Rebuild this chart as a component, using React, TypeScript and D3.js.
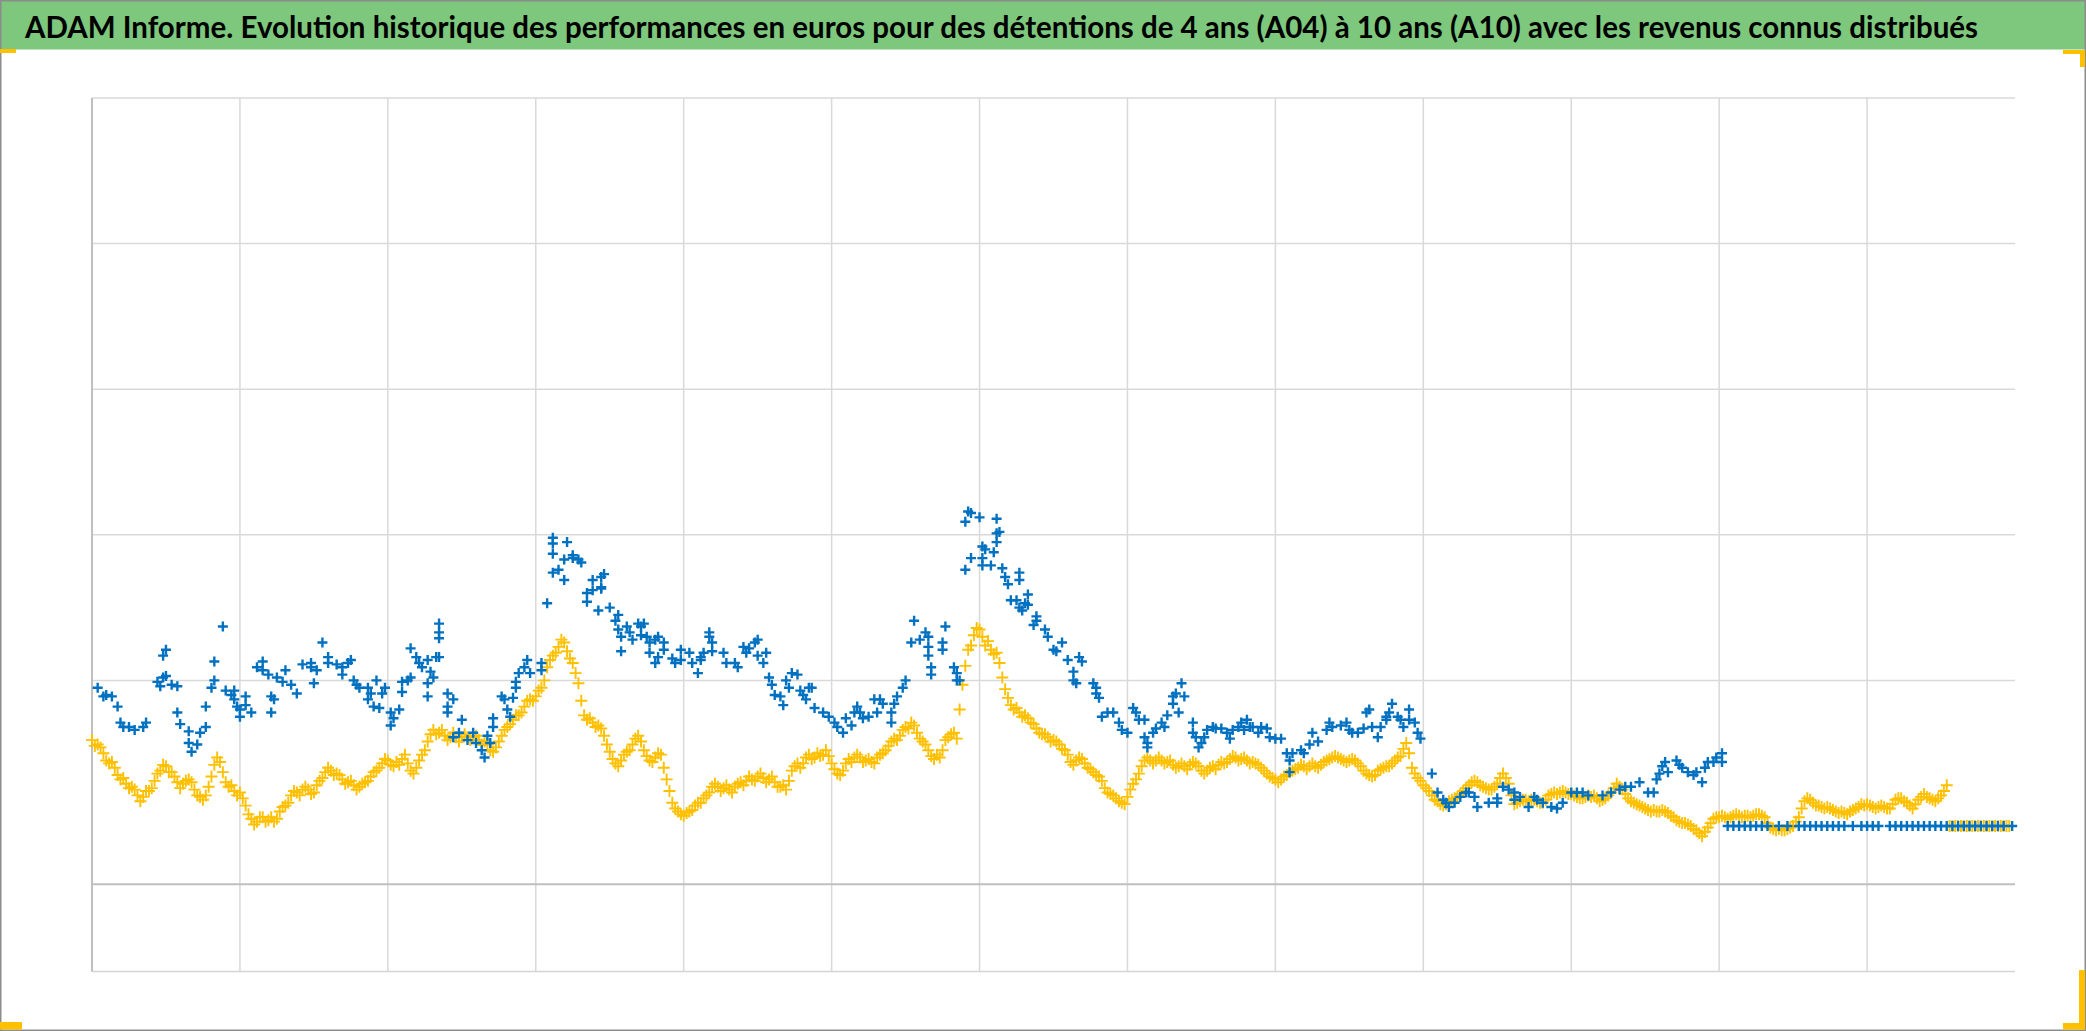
import React, { useEffect } from "react";
import * as d3 from "d3";

const TITLE =
  "ADAM Informe. Evolution historique des performances en euros pour des détentions de 4 ans (A04) à 10 ans (A10) avec les revenus connus distribués";

// x axis: weeks since the start of the history (52 weeks per grid column)
const xDomain = [0, 676];
const xGridWeeks = [0, 52, 104, 156, 208, 260, 312, 364, 416, 468, 520, 572, 624];
// y axis: performance in euros
const yDomain = [-100, 500];
const yGridValues = [100, 200, 300, 400, 500];
const yAxisCross = -40;

// A10 (yellow): values on even weeks (week = 2 * index)
const yellowEvenWeeks = [
  59, 56, 50, 43, 40, 32, 29, 27, 21, 20,
  24, 31, 38, 41, 37, 30, 29, 32, 25, 20,
  21, 34, 47, 37, 27, 24, 23, 14, 5, 3,
  6, 4, 3, 10, 14, 21, 23, 25, 25, 23,
  31, 37, 38, 36, 32, 30, 28, 27, 30, 34,
  38, 43, 45, 41, 42, 49, 38, 40, 49, 58,
  66, 64, 62, 61, 61, 61, 61, 61, 59, 58,
  52, 54, 62, 68, 73, 76, 82, 87, 89, 95,
  109, 117, 123, 126, 115, 105, 86, 73, 71, 69,
  62, 51, 43, 45, 51, 56, 62, 52, 45, 47,
  49, 32, 16, 10, 7, 10, 14, 16, 21, 27,
  27, 26, 25, 27, 30, 31, 32, 34, 33, 32,
  30, 27, 25, 38, 43, 43, 49, 47, 48, 52,
  43, 36, 38, 46, 47, 47, 45, 44, 47, 50,
  55, 60, 62, 68, 71, 64, 58, 52, 46, 47,
  59, 63, 60, 97, 121, 131, 135, 124, 121, 119,
  102, 88, 80, 78, 76, 71, 67, 63, 61, 59,
  56, 52, 44, 45, 46, 40, 37, 34, 26, 22,
  19, 16, 20, 29, 36, 45, 45, 45, 45, 44,
  42, 41, 41, 42, 43, 38, 38, 41, 42, 43,
  46, 47, 46, 45, 44, 42, 38, 34, 32, 32,
  35, 38, 40, 41, 41, 41, 42, 45, 47, 47,
  45, 45, 45, 41, 36, 34, 38, 40, 41, 45,
  48, 57, 40, 33, 28, 24, 18, 15, 15, 18,
  20, 24, 28, 31, 28, 26, 25, 29, 36, 29,
  15, 17, 18, 18, 17, 16, 21, 23, 23, 23,
  22, 20, 19, 21, 21, 17, 19, 23, 29, 25,
  19, 16, 14, 12, 10, 10, 11, 9, 6, 3,
  2, 0, -3, -7, -1, 5, 6, 6, 6, 8,
  6, 7, 7, 8, 6, -1, -3, -3, -2, 0,
  6, 17, 18, 14, 13, 13, 11, 9, 9, 10,
  12, 15, 15, 13, 13, 13, 12, 18, 19, 16,
  12, 18, 22, 19, 17, 21, 28, 0, 0, 0,
  0, 0, 0, 0, 0, 0, 0, 0,
];

// A10 (yellow): values on odd weeks (week = 2 * index + 1)
const yellowOddWeeks = [
  55, 54, 45, 44, 35, 33, 26, 25, 17, 24,
  26, 36, 42, 37, 34, 26, 31, 30, 21, 18,
  27, 42, 44, 30, 28, 21, 19, 8, 1, 6,
  3, 6, 5, 13, 16, 24, 21, 27, 22, 28,
  33, 40, 35, 35, 29, 31, 25, 29, 31, 37,
  40, 46, 42, 44, 46, 43, 36, 45, 52, 63,
  63, 66, 59, 64, 58, 63, 59, 62, 56, 56,
  51, 58, 66, 70, 76, 78, 86, 86, 93, 100,
  114, 119, 128, 120, 112, 98, 76, 74, 68, 67,
  56, 46, 41, 49, 52, 60, 58, 48, 44, 50,
  40, 24, 12, 8, 9, 11, 16, 19, 23, 29,
  24, 28, 23, 29, 28, 34, 31, 36, 30, 34,
  27, 28, 31, 41, 40, 47, 46, 50, 49, 48,
  39, 35, 43, 44, 49, 44, 46, 43, 49, 52,
  58, 59, 66, 67, 69, 60, 56, 48, 49, 52,
  61, 64, 80, 110, 124, 136, 130, 127, 118, 112,
  94, 83, 81, 75, 74, 70, 64, 63, 58, 58,
  53, 49, 42, 47, 43, 39, 35, 31, 23, 21,
  17, 15, 25, 32, 41, 47, 43, 47, 43, 45,
  40, 43, 39, 44, 41, 36, 40, 39, 44, 44,
  48, 45, 47, 43, 43, 40, 36, 33, 30, 34,
  37, 39, 42, 39, 43, 40, 44, 46, 48, 46,
  44, 46, 43, 38, 35, 35, 39, 41, 43, 47,
  53, 50, 36, 31, 26, 21, 17, 14, 17, 19,
  22, 26, 30, 30, 27, 25, 27, 33, 33, 21,
  16, 18, 17, 18, 16, 18, 22, 22, 24, 22,
  21, 19, 20, 20, 19, 18, 21, 26, 27, 22,
  17, 15, 13, 11, 11, 10, 10, 7, 4, 2,
  1, -2, -5, -4, 2, 6, 7, 5, 7, 7,
  7, 6, 8, 7, 2, -2, -2, -3, -1, 3,
  12, 19, 16, 14, 12, 12, 10, 10, 8, 11,
  13, 14, 14, 12, 14, 12, 15, 19, 17, 14,
  15, 20, 20, 18, 19, 24, 0, 0, 0, 0,
  0, 0, 0, 0, 0, 0, 0,
];

// A04 (blue): [week, value]
const bluePoints: [number, number][] = [
  [2, 95], [4, 89], [5, 90], [7, 89], [9, 82], [10, 71], [11, 68], [13, 68], [15, 66], [18, 68], [19, 71],
  [23, 99], [24, 96], [25, 102], [26, 103], [25, 117], [26, 121], [28, 97], [30, 96], [30, 78], [31, 70],
  [34, 65], [34, 57], [35, 51], [37, 56], [38, 64], [40, 68], [40, 82], [42, 95], [43, 100], [43, 113], [46, 137],
  [47, 93], [49, 90], [50, 93], [50, 87], [51, 82], [52, 75], [52, 80], [54, 89], [54, 83], [56, 78],
  [58, 109], [60, 113], [60, 107], [62, 104], [63, 89], [64, 87], [63, 78], [65, 102], [67, 99], [68, 107], [70, 97], [72, 91],
  [74, 111], [77, 112], [77, 109], [79, 107], [78, 98], [81, 126], [83, 116], [83, 112], [86, 111], [88, 104], [88, 109], [90, 112], [91, 114],
  [92, 100], [93, 97], [94, 95], [97, 95], [98, 91], [97, 87], [99, 82], [100, 100], [101, 81], [102, 91], [103, 95],
  [105, 78], [105, 69], [106, 74], [108, 80], [109, 99], [109, 92], [111, 100], [112, 102], [112, 122], [114, 116], [115, 112], [116, 109], [118, 114], [119, 106], [120, 102], [118, 98], [118, 89],
  [122, 139], [122, 133], [122, 129], [121, 116], [122, 116], [125, 91], [127, 87], [125, 82], [125, 78],
  [127, 61], [129, 64], [130, 73], [132, 59], [134, 64], [135, 57], [137, 52], [138, 47], [139, 62], [140, 57], [141, 68], [141, 74],
  [144, 89], [145, 87], [146, 80], [147, 75], [148, 88], [149, 95], [149, 99], [150, 105], [152, 109], [153, 114], [154, 105], [158, 112], [158, 107],
  [160, 153], [162, 198], [162, 194], [162, 187], [162, 174], [164, 176], [166, 169], [166, 183], [167, 195], [169, 184], [169, 186], [171, 183], [172, 181],
  [174, 160], [174, 154], [176, 162], [176, 169], [178, 148], [179, 171], [180, 173], [179, 164], [179, 163], [182, 150],
  [185, 145], [184, 141], [185, 135], [186, 130], [186, 120], [188, 137], [189, 133], [190, 128], [192, 139], [193, 137], [193, 131], [194, 139], [195, 130],
  [196, 126], [196, 119], [198, 128], [198, 112], [199, 130], [199, 116], [201, 126], [201, 121], [204, 115], [205, 112], [207, 121], [207, 114], [210, 119], [211, 112], [213, 105], [214, 114], [214, 116], [215, 119],
  [217, 133], [217, 130], [218, 126], [218, 120], [222, 119], [223, 112], [226, 112], [227, 109],
  [229, 123], [230, 119], [231, 122], [233, 126], [234, 128], [234, 117], [236, 112], [237, 119],
  [238, 102], [239, 97], [240, 90], [242, 89], [243, 83], [244, 100], [245, 95], [246, 105], [248, 104], [249, 93], [250, 90], [251, 87], [252, 95], [253, 95], [254, 81],
  [257, 78], [259, 75], [261, 71], [262, 68], [264, 64], [265, 74], [267, 69], [268, 78], [269, 82], [270, 78], [271, 74], [273, 75], [275, 87], [276, 78], [277, 87], [278, 84],
  [281, 71], [281, 78], [282, 84], [283, 89], [285, 95], [286, 100],
  [289, 141], [288, 126], [291, 128], [293, 133], [294, 130], [294, 123], [294, 117], [295, 109], [295, 104], [299, 126], [299, 121], [300, 137],
  [303, 109], [304, 105], [304, 100], [305, 100],
  [307, 209], [308, 216], [309, 215], [312, 212], [307, 176], [309, 184], [313, 184], [313, 192], [314, 190], [313, 179], [316, 179], [317, 188], [318, 195], [318, 201], [319, 202], [318, 211],
  [320, 177], [321, 171], [322, 166], [326, 174], [326, 169], [323, 155], [325, 155], [326, 150], [327, 148], [328, 153], [329, 159], [329, 152],
  [332, 144], [332, 141], [331, 138], [335, 135], [336, 130], [338, 121], [339, 120], [341, 126], [343, 114], [347, 116], [348, 113], [345, 106], [345, 100], [346, 98],
  [352, 98], [353, 95], [353, 91], [354, 88], [355, 75], [357, 78], [359, 78], [361, 71], [362, 66], [364, 64],
  [366, 81], [367, 78], [368, 73], [370, 73], [370, 61], [371, 57], [371, 54], [373, 64], [374, 67], [377, 68], [376, 71], [378, 76],
  [380, 84], [380, 89], [381, 91], [383, 98], [384, 89], [382, 78],
  [387, 71], [387, 64], [388, 61], [389, 54], [390, 57], [391, 61], [392, 66], [394, 68], [395, 67], [397, 67],
  [399, 64], [400, 60], [401, 66], [403, 68], [404, 71], [405, 66], [406, 73], [407, 68], [408, 68], [410, 64], [411, 68], [413, 67], [414, 61], [416, 60], [418, 60],
  [420, 50], [421, 45], [421, 37], [422, 50], [425, 52], [426, 50], [428, 56], [429, 64], [431, 58],
  [434, 66], [435, 71], [436, 68], [439, 69], [441, 71], [442, 66], [443, 64], [445, 64], [447, 67], [448, 78], [449, 80], [450, 68], [452, 61], [453, 68], [455, 73], [455, 75], [456, 78], [457, 84], [459, 75],
  [460, 73], [461, 68], [463, 80], [463, 73], [465, 71], [466, 64], [467, 60],
  [471, 36], [473, 23], [475, 18], [476, 16], [477, 13], [479, 16], [481, 20], [483, 23], [484, 23], [486, 20], [487, 13], [491, 16], [494, 16], [494, 19],
  [496, 27], [498, 25], [500, 23], [500, 18], [502, 20], [505, 13], [507, 20], [508, 18], [510, 16], [513, 13], [515, 12], [517, 16], [520, 23], [522, 23], [524, 23], [526, 21],
  [531, 21], [534, 23], [537, 25], [539, 27], [541, 27], [544, 30], [547, 23], [549, 23],
  [550, 32], [551, 36], [552, 41], [553, 44], [554, 37], [557, 45], [558, 42], [559, 40], [561, 37], [563, 35], [564, 37],
  [566, 30], [567, 40], [568, 44], [570, 44], [571, 47], [573, 50], [573, 44],
];

// A04 (blue): weeks at which the value is 0 (end of the history)
const blueZeroWeeks = [
  575, 577, 579, 581, 583, 585, 587, 589, 593, 596,
  600, 602, 604, 606, 608, 610, 612, 614, 616, 619, 622, 624, 626, 628,
  632, 634, 636, 638, 640, 642, 644, 646, 648, 650, 652, 654, 656, 658,
  660, 662, 664, 666, 668, 670, 672, 675,
];

const W = 2086;
const H = 1031;
const PLOT = { left: 92, right: 2015, top: 98, bottom: 971.6 };

const BLUE = "#0070C0";
const YELLOW = "#FFC000";

function plus(size: number) {
  const h = size / 2;
  return `M${-h},0H${h}M0,${-h}V${h}`;
}

export default function App() {
  useEffect(() => {
    document.body.style.margin = "0";
    document.body.style.background = "#ffffff";
  }, []);

  const x = d3.scaleLinear().domain(xDomain).range([PLOT.left, PLOT.right]);
  const y = d3.scaleLinear().domain(yDomain).range([PLOT.bottom, PLOT.top]);

  const yellowPts: [number, number][] = [
    ...yellowEvenWeeks.map((v, i) => [i * 2, v] as [number, number]),
    ...yellowOddWeeks.map((v, i) => [i * 2 + 1, v] as [number, number]),
  ];
  const bluePts = [...bluePoints, ...blueZeroWeeks.map((w) => [w, 0] as [number, number])];

  const yPlus = plus(12);
  const bPlus = plus(10);

  return (
    <svg width={W} height={H} style={{ display: "block", background: "#fff" }}>
      {/* title band */}
      <rect x={0} y={0} width={W} height={49.5} fill="#7dc87d" />
      <text
        x={25}
        y={38}
        fontFamily="Lato, 'Open Sans', sans-serif"
        fontWeight={700}
        fontSize={30}
        fill="#000"
        textLength={1953}
        lengthAdjust="spacingAndGlyphs"
      >
        {TITLE}
      </text>

      {/* grid */}
      <g>
        {xGridWeeks.slice(1).map((w) => (
          <line key={"gx" + w} x1={x(w)} x2={x(w)} y1={PLOT.top} y2={PLOT.bottom} stroke="#d9d9d9" strokeWidth={1.5} />
        ))}
        {yGridValues.map((v) => (
          <line key={"gy" + v} x1={PLOT.left} x2={PLOT.right} y1={y(v)} y2={y(v)} stroke="#d9d9d9" strokeWidth={1.5} />
        ))}
        <line x1={PLOT.left} x2={PLOT.right} y1={y(yDomain[0])} y2={y(yDomain[0])} stroke="#d4d4d4" strokeWidth={1.5} />
        <line x1={x(0)} x2={x(0)} y1={PLOT.top} y2={PLOT.bottom} stroke="#bfbfbf" strokeWidth={2} />
        <line x1={PLOT.left} x2={PLOT.right} y1={y(yAxisCross)} y2={y(yAxisCross)} stroke="#bfbfbf" strokeWidth={2} />
      </g>

      {/* A10 series */}
      <g stroke={YELLOW} strokeWidth={1.9} fill="none">
        {yellowPts.map(([w, v], i) => (
          <path key={"y" + i} d={yPlus} transform={`translate(${x(w)},${y(v)})`} />
        ))}
      </g>

      {/* A04 series */}
      <g stroke={BLUE} strokeWidth={2.4} fill="none">
        {bluePts.map(([w, v], i) => (
          <path key={"b" + i} d={bPlus} transform={`translate(${x(w)},${y(v)})`} />
        ))}
      </g>

      {/* frame */}
      <rect x={0.75} y={0.75} width={W - 1.5} height={H - 1.5} fill="none" stroke="#8c8c8c" strokeWidth={1.5} />

      {/* yellow corner marks */}
      <g fill={YELLOW}>
        <rect x={0} y={49} width={16} height={4} />
        <rect x={2063} y={50} width={22} height={4} />
        <rect x={2080} y={50} width={5} height={17} />
        <rect x={0} y={1022} width={22} height={7.5} />
        <rect x={2063} y={1023} width={22} height={6.5} />
        <rect x={2079} y={970} width={6} height={59.5} />
      </g>
    </svg>
  );
}
